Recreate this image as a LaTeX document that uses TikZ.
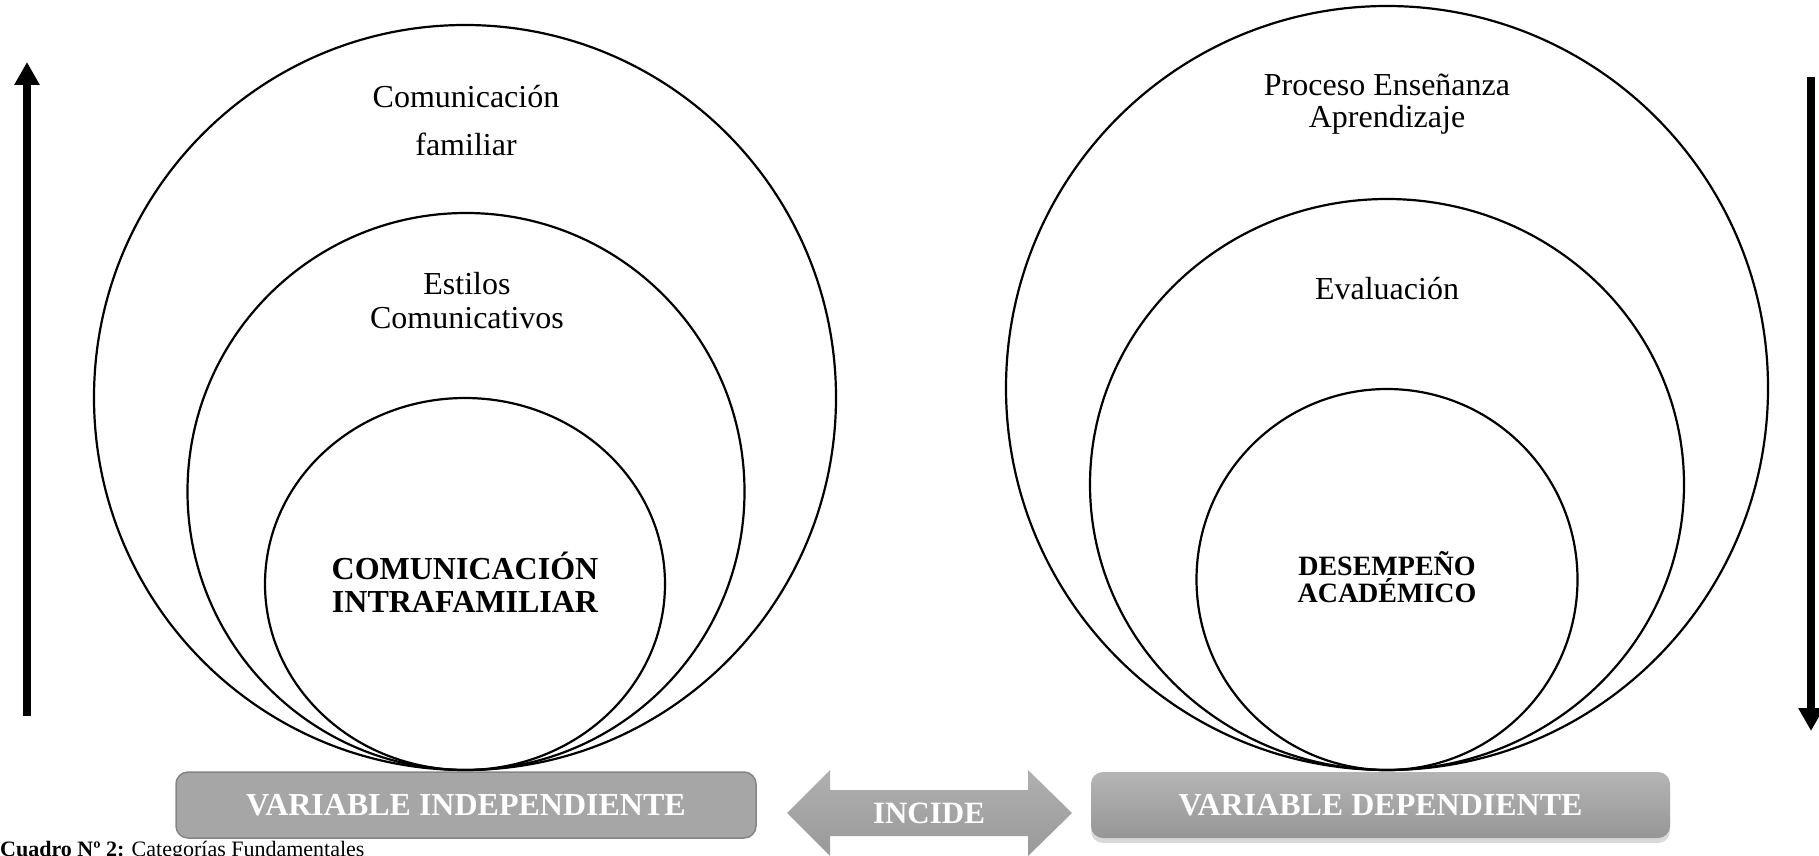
\documentclass[tikz,border=0pt]{standalone}
\usepackage{fontspec}
\setmainfont{Liberation Serif}
\usetikzlibrary{arrows.meta,shapes.geometric,shadows}
\definecolor{boxgray}{HTML}{A6A6A6}
\definecolor{boxedge}{HTML}{858585}
\definecolor{gradtop}{HTML}{B5B5B5}
\definecolor{gradbot}{HTML}{969696}
\definecolor{arrtop}{HTML}{B0B0B0}
\definecolor{arrbot}{HTML}{999999}
\begin{document}
\begin{tikzpicture}[x=1pt,y=-1pt,
  ring/.style={draw=black, line width=2.2pt, ellipse, inner sep=0pt, outer sep=0pt},
  lbl/.style={font=\fontsize{32}{34}\selectfont, anchor=base, inner sep=0pt},
  blbl/.style={font=\fontsize{32}{34}\selectfont\bfseries, anchor=base, inner sep=0pt},
  sblbl/.style={font=\fontsize{28}{30}\selectfont\bfseries, anchor=base, inner sep=0pt},
  wlbl/.style={font=\fontsize{32}{34}\selectfont\bfseries, text=white, text height=21pt, text depth=0pt},
  vbar/.style={line width=8pt, -{Triangle[width=24pt,length=23pt]}}
]
\useasboundingbox (0,0) rectangle (1819,856);

% left group
\node[ring, minimum width=742pt, minimum height=745pt] (lbig) at (465,397.5) {};
\node[ring, minimum width=557pt, minimum height=557pt] (lmid) at (466,491.5) {};
\node[ring, minimum width=400pt, minimum height=372pt] (lsmall) at (465,584) {};

% right group
\node[ring, minimum width=762pt, minimum height=764pt] (rbig) at (1387,388) {};
\node[ring, minimum width=594pt, minimum height=571pt] (rmid) at (1387,484.5) {};
\node[ring, minimum width=381pt, minimum height=381pt] (rsmall) at (1387,579.5) {};

% labels
\node[lbl] (t1) at (466,107) {Comunicación};
\node[lbl] (t2) at (466,155) {familiar};
\node[lbl] (t3) at (467,294) {Estilos};
\node[lbl] (t4) at (467,328) {Comunicativos};
\node[blbl] (t5) at (465,579) {COMUNICACIÓN};
\node[blbl] (t6) at (465,612) {INTRAFAMILIAR};

\node[lbl] (t7) at (1387,96) {Proceso Enseñanza};
\node[lbl] (t8) at (1387,128) {Aprendizaje};
\node[lbl] (t9) at (1387,299) {Evaluación};
\node[sblbl] (t10) at (1387,575) {DESEMPEÑO};
\node[sblbl] (t11) at (1387,602) {ACADÉMICO};

% boxes
\node[draw=boxedge, line width=1.5pt, fill=boxgray, rounded corners=12pt,
      minimum width=580pt, minimum height=66pt, inner sep=0pt, wlbl] (vi) at (466,805) {VARIABLE INDEPENDIENTE};
\node[rounded corners=12pt, top color=gradtop, bottom color=gradbot,
      drop shadow={opacity=0.3, shadow xshift=0pt, shadow yshift=-5pt},
      minimum width=579pt, minimum height=66pt, inner sep=0pt, wlbl] (vd) at (1380.5,805) {VARIABLE DEPENDIENTE};

% INCIDE double arrow
\path[top color=arrtop, bottom color=arrbot]
  (787,813) -- (830,770) -- (830,790) -- (1028,790) -- (1028,770) -- (1072,813)
  -- (1028,856) -- (1028,836) -- (830,836) -- (830,856) -- cycle;
\node[wlbl, font=\fontsize{31}{33}\selectfont\bfseries] (inc) at (929,813) {INCIDE};

% vertical arrows
\coordinate (la0) at (27,716);
\coordinate (la1) at (27,62);
\draw[vbar] (la0) -- (la1);
\coordinate (ra0) at (1811,77);
\coordinate (ra1) at (1811,731);
\draw[vbar] (ra0) -- (ra1);

% caption
\node[anchor=base west, inner sep=0pt, font=\fontsize{22}{24}\selectfont] (cap) at (0,856.5)
  {\textbf{Cuadro Nº 2:} Categorías Fundamentales};
\end{tikzpicture}
\end{document}
